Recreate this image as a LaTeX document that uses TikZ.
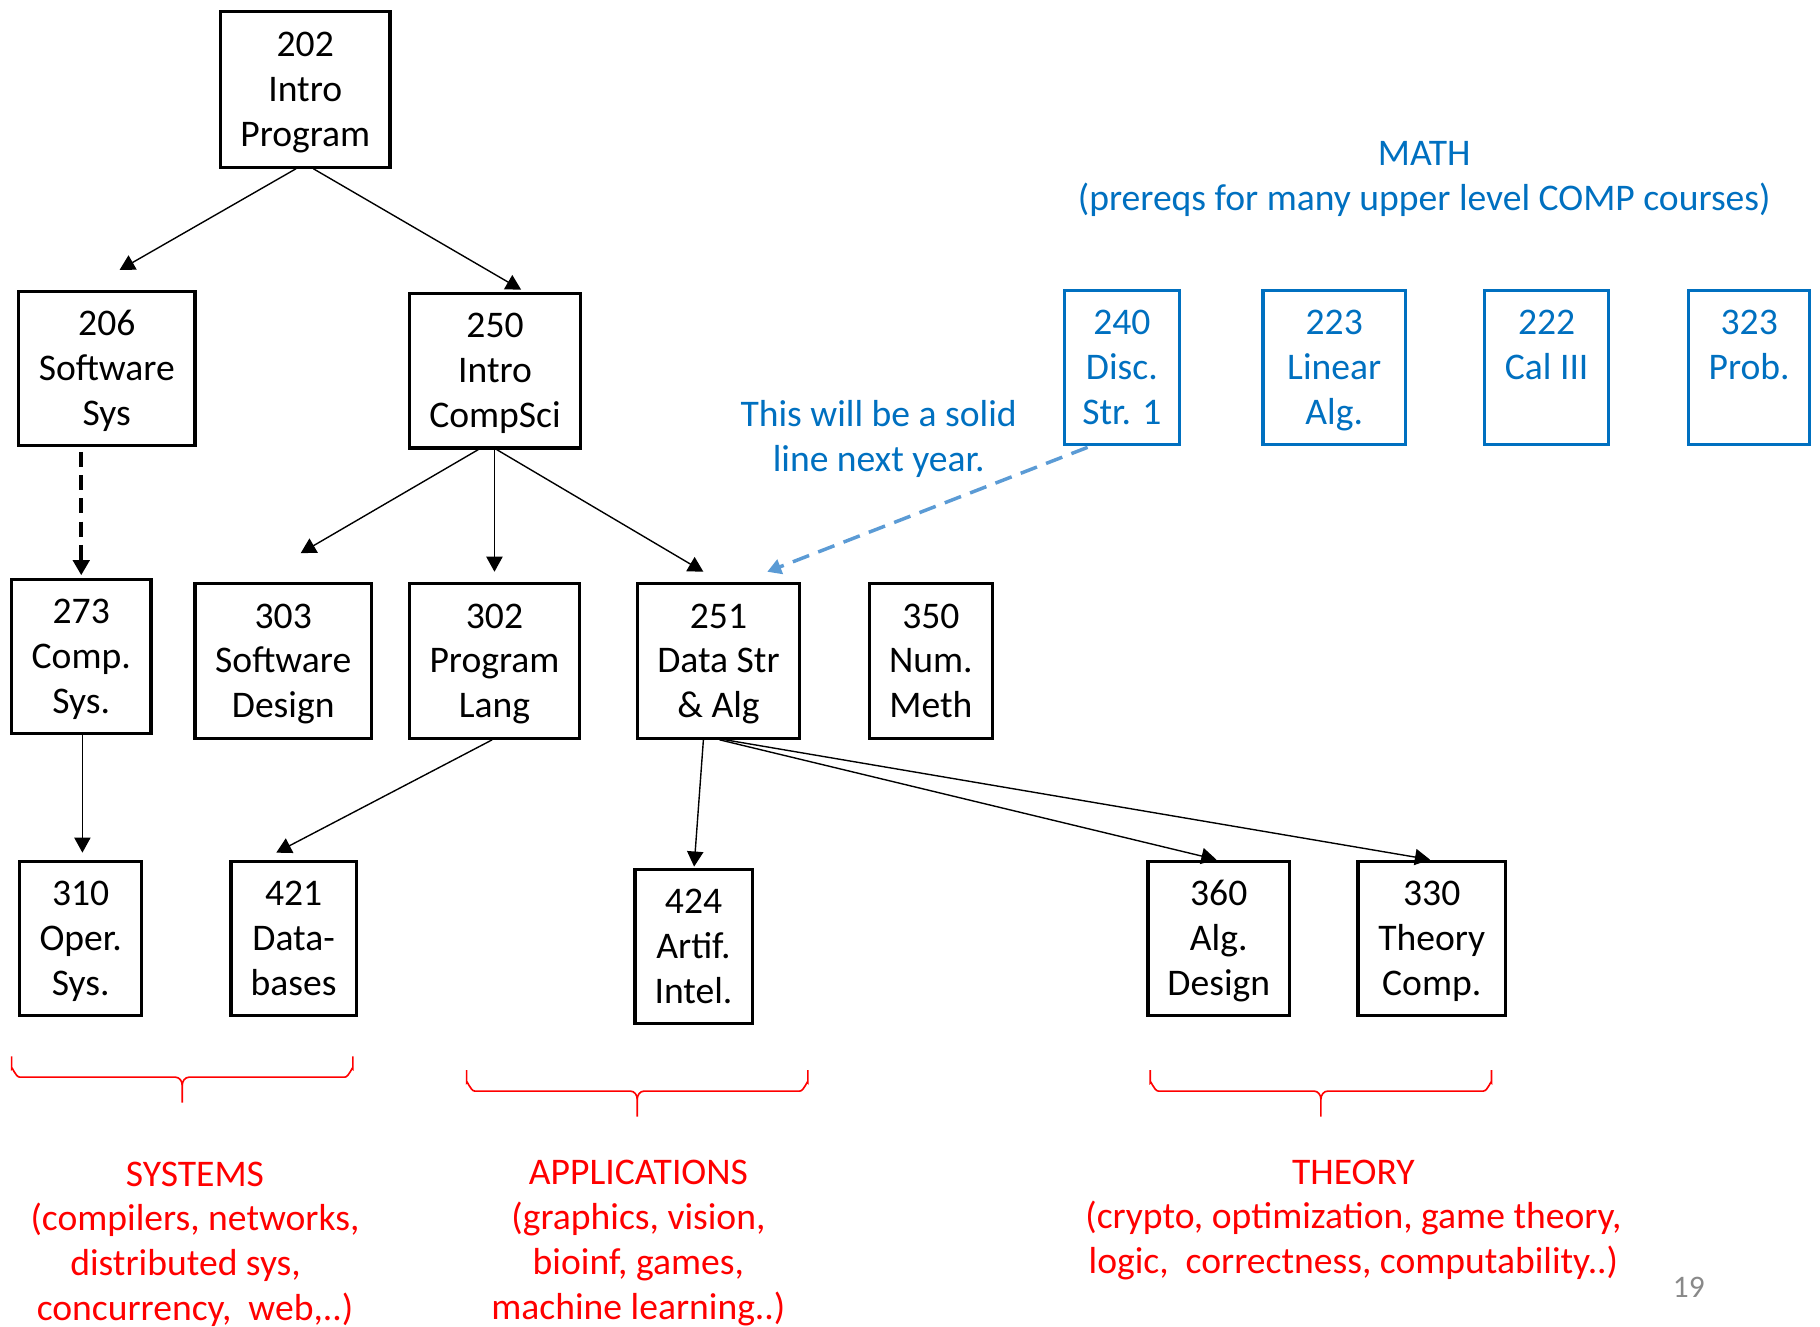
\documentclass[tikz,border=0pt]{standalone}
\usepackage{fontspec}
\setmainfont{Carlito}
\usetikzlibrary{arrows.meta}
\definecolor{mathblue}{RGB}{0,112,192}
\definecolor{noteblue}{RGB}{91,155,213}
\definecolor{catred}{RGB}{255,0,0}
\definecolor{pagegray}{RGB}{137,137,137}
% struts that give every text block the same first-line height and last-line depth
\newcommand\crsTop{\rule{0pt}{15.8pt}}
\newcommand\crsBot{\rule[-5.5pt]{0pt}{5.5pt}}
\begin{document}
\begin{tikzpicture}[x=0.5pt,y=-0.5pt,
  every node/.style={font=\fontsize{16.2}{19.3}\selectfont, align=center, inner sep=0pt},
  course/.style={draw=black, line width=1.4pt, minimum width=#1, minimum height=66.5pt},
  mathcourse/.style={draw=mathblue, text=mathblue, line width=1.4pt, minimum width=#1, minimum height=66.5pt},
  prereq/.style={-{Triangle[length=6.5pt,width=7pt]}, line width=0.6pt},
  softprereq/.style={-{Triangle[length=6.5pt,width=7pt]}, line width=1.9pt, dash pattern=on 6.5pt off 3.5pt},
  futureprereq/.style={-{Triangle[length=6pt,width=6.5pt]}, draw=noteblue, line width=1.5pt, dash pattern=on 7.5pt off 4.2pt},
  catlabel/.style={text=catred},
  catbrace/.style={draw=catred, line width=0.7pt}
]
\useasboundingbox (0,0) rectangle (1568,1143);

% core courses
\node[course=73pt, minimum height=67pt] (n202) at (263,77) {\crsTop202\\Intro\\Program\crsBot};
\node[course=76pt]   (n206) at (92,317.5)    {\crsTop206\\Software\\Sys\crsBot};
\node[course=73.5pt] (n250) at (426.5,319.5) {\crsTop250\\Intro\\CompSci\crsBot};
\node[course=60pt]   (n273) at (70,565.5)    {\crsTop273\\Comp.\\Sys.\crsBot};
\node[course=76pt]   (n303) at (244,569.5)   {\crsTop303\\Software\\Design\crsBot};
\node[course=73pt]   (n302) at (426,569.5)   {\crsTop302\\Program\\Lang\crsBot};
\node[course=70pt]   (n251) at (619,569.5)   {\crsTop251\\Data Str\\\& Alg\crsBot};
\node[course=53pt]   (n350) at (802,569.5)   {\crsTop350\\Num.\\Meth\crsBot};
\node[course=52.5pt] (n310) at (69.5,808.5)  {\crsTop310\\Oper.\\Sys.\crsBot};
\node[course=54pt]   (n421) at (253,808.5)   {\crsTop421\\Data-\\bases\crsBot};
\node[course=50.5pt] (n424) at (597.5,815.5) {\crsTop424\\Artif.\\Intel.\crsBot};
\node[course=61pt]   (n360) at (1050,808.5)  {\crsTop360\\Alg.\\Design\crsBot};
\node[course=63.5pt] (n330) at (1233.5,808.5) {\crsTop330\\Theory\\Comp.\crsBot};

% math courses
\node[text=mathblue] (mathtitle) at (1227,152) {\crsTop MATH\\(prereqs for many upper level COMP courses)\crsBot};
\node[mathcourse=49.5pt] (m240) at (966.5,316.5)  {\crsTop240\\Disc.\\Str. 1\crsBot};
\node[mathcourse=61.5pt] (m223) at (1149.5,316.5) {\crsTop223\\Linear\\Alg.\crsBot};
\node[mathcourse=53.5pt] (m222) at (1332.5,316.5) {\crsTop222\\Cal III\\\crsBot};
\node[mathcourse=52pt]   (m323) at (1507,316.5)   {\crsTop323\\Prob.\\\crsBot};
\node[text=mathblue] (note) at (757,376.5) {\crsTop This will be a solid\\line next year.\crsBot};

% prerequisite arrows
\draw[prereq] ([shift={(-8,0)}]n202.south) -- ([shift={(11,-17)}]n206.north);
\draw[prereq] ([shift={(7,0)}]n202.south) -- ([shift={(22.5,-2)}]n250.north);
\draw[softprereq] ([shift={(-22,4)}]n206.south) -- ([shift={(0,-2)}]n273.north);
\draw[prereq] ([shift={(-14.5,0)}]n250.south) -- ([shift={(15,-25)}]n303.north);
\draw[prereq] ([shift={(-0.5,0)}]n250.south) -- ([shift={(0,-9)}]n302.north);
\draw[prereq] ([shift={(1.5,0)}]n250.south) -- ([shift={(-13,-9)}]n251.north);
\draw[prereq] ([shift={(1,0)}]n273.south) -- ([shift={(1.5,-6)}]n310.north);
\draw[prereq] ([shift={(-2,0)}]n302.south) -- ([shift={(-15,-6)}]n421.north);
\draw[prereq] ([shift={(-13,0)}]n251.south) -- ([shift={(0.5,-1)}]n424.north);
\draw[prereq] ([shift={(1,0)}]n251.south) -- ([shift={(-2,0)}]n360.north);
\draw[prereq] ([shift={(6,0)}]n251.south) -- ([shift={(-1.5,0)}]n330.north);
\draw[futureprereq] ([shift={(-29.5,1)}]m240.south) -- ([shift={(42,-9)}]n251.north);

% area braces
\foreach \l/\t in {10/910, 402/922, 991/922}{
  \draw[catbrace] (\l,\t) -- (\l,\t+11) to[out=90,in=180] (\l+7,\t+18)
    -- (\l+141,\t+18) to[out=0,in=90] (\l+147,\t+25) -- (\l+147,\t+40);
  \draw[catbrace] (\l+147,\t+25) to[out=90,in=180] (\l+153,\t+18)
    -- (\l+287,\t+18) to[out=0,in=90] (\l+294,\t+11) -- (\l+294,\t);
}

% area labels
\node[catlabel] (systems) at (168,1069.5) {\crsTop SYSTEMS\\(compilers, networks,\\distributed sys,\rule{0.5em}{0pt}\\concurrency,\ \ web,..)\crsBot};
\node[catlabel] (apps) at (550,1068.5) {\crsTop APPLICATIONS\\(graphics, vision,\\bioinf, games,\\machine learning..)\crsBot};
\node[catlabel] (theory) at (1166,1048.5) {\crsTop THEORY\\(crypto, optimization, game theory,\\logic,\ \ correctness, computability..)\crsBot};

% slide number
\node[text=pagegray, font=\fontsize{13.5}{16}\selectfont] (pagenum) at (1455,1109) {19};
\end{tikzpicture}
\end{document}
